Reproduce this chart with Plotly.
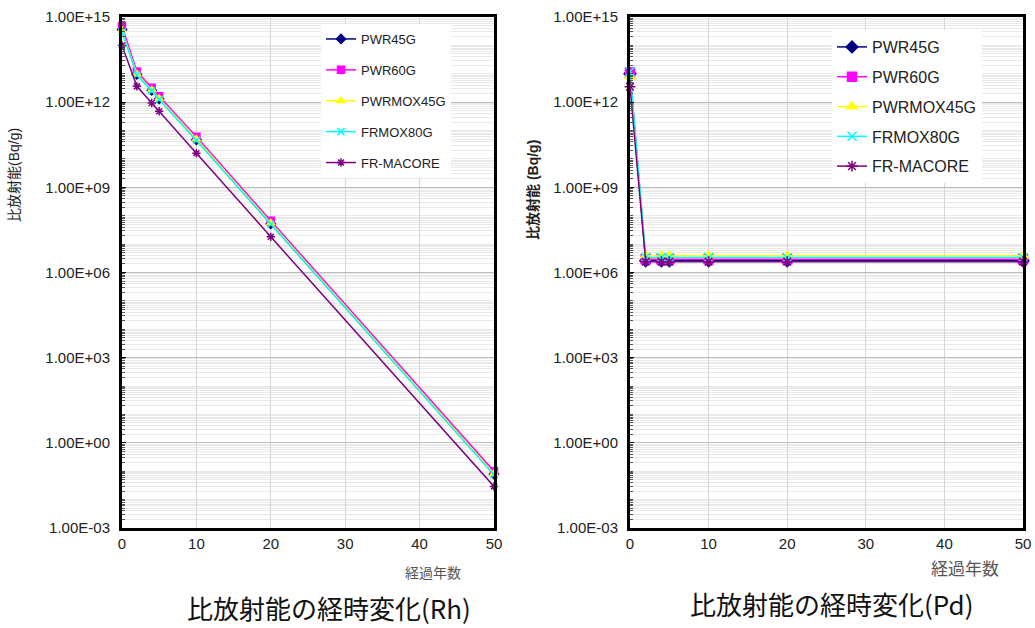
import plotly.graph_objects as go

years = [0, 2, 4, 5, 10, 20, 50]
series_names = ["PWR45G", "PWR60G", "PWRMOX45G", "FRMOX80G", "FR-MACORE"]

rh_pwr45g = [3.6e14, 9.5e12, 2.6e12, 1.3e12, 4.7e10, 5.2e7, 7.9e-2]
rh_pwr60g = [4.8e14, 1.2e13, 3.2e12, 1.6e12, 6.0e10, 6.6e7, 1.0e-1]
rh_pwrmox45g = [3.4e14, 9.8e12, 2.7e12, 1.35e12, 5.0e10, 5.5e7, 8.3e-2]
rh_frmox80g = [3.0e14, 9.0e12, 2.5e12, 1.25e12, 4.5e10, 5.0e7, 7.5e-2]
rh_frmacore = [1.0e14, 3.6e12, 9.4e11, 4.8e11, 1.6e10, 1.8e7, 2.9e-2]

pd_pwr45g = [1.0e13, 2.6e6, 2.6e6, 2.6e6, 2.6e6, 2.6e6, 2.6e6]
pd_pwr60g = [1.1e13, 2.9e6, 2.9e6, 2.9e6, 2.9e6, 2.9e6, 2.9e6]
pd_pwrmox45g = [8.0e12, 3.9e6, 3.9e6, 3.9e6, 3.9e6, 3.9e6, 3.9e6]
pd_frmox80g = [1.2e13, 3.4e6, 3.4e6, 3.4e6, 3.4e6, 3.4e6, 3.4e6]
pd_frmacore = [3.5e12, 2.4e6, 2.4e6, 2.4e6, 2.4e6, 2.4e6, 2.4e6]

y_tick_vals = [1e-3, 1e0, 1e3, 1e6, 1e9, 1e12, 1e15]
y_tick_text = ["1.00E-03", "1.00E+00", "1.00E+03", "1.00E+06", "1.00E+09", "1.00E+12", "1.00E+15"]
x_tick_vals = [0, 10, 20, 30, 40, 50]

colors = ["#000080", "#FF00FF", "#FFFF00", "#00FFFF", "#800080"]
symbols = ["diamond", "square", "triangle-up", "x-thin-open", "asterisk-open"]

rh_data = [rh_pwr45g, rh_pwr60g, rh_pwrmox45g, rh_frmox80g, rh_frmacore]
pd_data = [pd_pwr45g, pd_pwr60g, pd_pwrmox45g, pd_frmox80g, pd_frmacore]

FONT = "Liberation Sans, Arial, Noto Sans CJK JP, sans-serif"
CJK = "Noto Sans CJK JP, sans-serif"

fig = go.Figure()
for i, name in enumerate(series_names):
    fig.add_trace(go.Scatter(
        x=years, y=rh_data[i], name=name, mode="lines+markers",
        line=dict(color=colors[i], width=1.5),
        marker=dict(symbol=symbols[i], size=7, color=colors[i],
                    line=dict(color=colors[i], width=1.5)),
        cliponaxis=False, xaxis="x", yaxis="y",
        legend="legend", legendgroup="a" + str(i)))
for i, name in enumerate(series_names):
    fig.add_trace(go.Scatter(
        x=years, y=pd_data[i], name=name, mode="lines+markers",
        line=dict(color=colors[i], width=1.5),
        marker=dict(symbol=symbols[i], size=9, color=colors[i],
                    line=dict(color=colors[i], width=1.5)),
        cliponaxis=False, xaxis="x2", yaxis="y2",
        legend="legend2", legendgroup="b" + str(i)))

minor_vals = []
for n in range(-3, 15):
    for k in range(1, 10):
        if k == 1 and n % 3 == 0:
            continue
        minor_vals.append(k * 10.0 ** n)

def yax(domain_anchor):
    return dict(
        type="log", range=[-3, 15], tickmode="array", tickvals=y_tick_vals,
        ticktext=y_tick_text, showline=True, linecolor="black", linewidth=3,
        mirror=True, ticks="inside", ticklen=4, tickcolor="black",
        tickfont=dict(family=FONT, size=15, color="#222"),
        showgrid=True, gridcolor="#bdbdbd", gridwidth=1,
        domain=[1 - 528 / 628, 1 - 17 / 628], anchor=domain_anchor,
        minor=dict(tickmode="array", tickvals=minor_vals, showgrid=True,
                   gridcolor="#e9e9e9", gridwidth=1, ticks="inside",
                   ticklen=3, tickcolor="#555"),
        zeroline=False, ticklabelstandoff=6, automargin=False)

def xax(domain, anchor):
    return dict(
        range=[0, 50], tickmode="array", tickvals=x_tick_vals,
        showline=True, linecolor="black", linewidth=3, mirror=True,
        ticks="", showgrid=True, gridcolor="#d6d6d6", gridwidth=1,
        tickfont=dict(family=FONT, size=15, color="#222"),
        domain=domain, anchor=anchor, zeroline=False, automargin=False)

def ann(text, px, py, size, color="#222", family=FONT, angle=0):
    return dict(text=text, x=px / 1035, y=1 - py / 628, xref="paper", yref="paper",
                xanchor="center", yanchor="middle", textangle=angle,
                showarrow=False, font=dict(family=family, size=size, color=color))

fig.update_layout(
    width=1035, height=628,
    margin=dict(l=0, r=0, t=0, b=0, autoexpand=False),
    paper_bgcolor="white", plot_bgcolor="white",
    font=dict(family=FONT, color="#222"),
    xaxis=xax([122 / 1035, 494 / 1035], "y"),
    yaxis=yax("x"),
    xaxis2=xax([630 / 1035, 1023 / 1035], "y2"),
    yaxis2=yax("x2"),
    legend=dict(x=321 / 1035, y=1 - 24 / 628, xanchor="left", yanchor="top",
                bgcolor="white", font=dict(family=FONT, size=13, color="#222"),
                tracegroupgap=11, itemwidth=30, traceorder="grouped"),
    legend2=dict(x=832 / 1035, y=1 - 30 / 628, xanchor="left", yanchor="top",
                 bgcolor="white", font=dict(family=FONT, size=16, color="#222"),
                 tracegroupgap=6, itemwidth=30, traceorder="grouped"),
    showlegend=True,
    annotations=[
        ann("比放射能(Bq/g)", 14, 175, 14, angle=-90),
        ann("<b>比放射能 (Bq/g)</b>", 533, 190, 14, angle=-90),
        ann("経過年数", 433, 572, 14, color="#555", family=CJK),
        ann("経過年数", 965, 567, 17, color="#555", family=CJK),
        ann("比放射能の経時変化(Rh)", 329, 607, 26, color="#111", family=CJK),
        ann("比放射能の経時変化(Pd)", 831, 603, 26, color="#111", family=CJK),
    ],
)

fig.write_html("out.html")
